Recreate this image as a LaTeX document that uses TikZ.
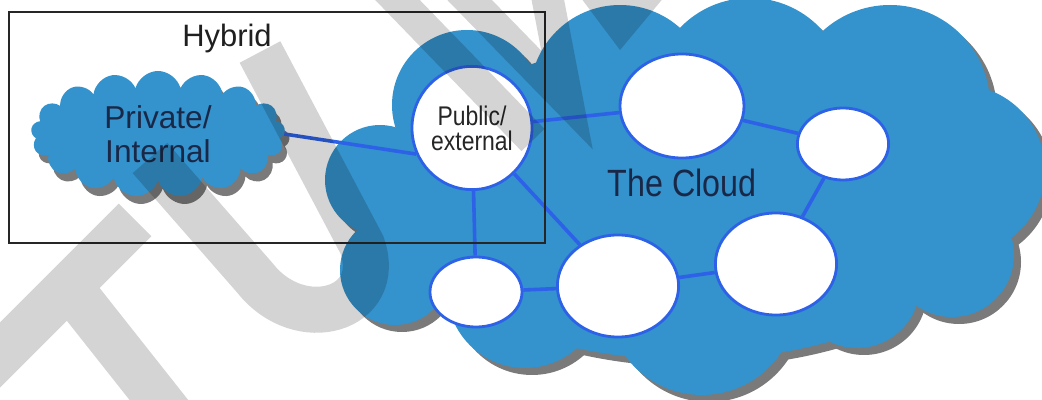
\documentclass[tikz,border=0pt]{standalone}
\usepackage{fontspec}
\setmainfont{Liberation Sans}
\newfontfamily\narrowfont[FakeStretch=0.85]{Liberation Sans}
\usetikzlibrary{shapes.geometric,shapes.symbols,shadows}
\definecolor{cloudblue}{RGB}{52,146,204}
\definecolor{linkblue}{RGB}{45,98,232}
\definecolor{shadowgray}{RGB}{122,122,122}
\definecolor{navytext}{RGB}{26,40,72}
\tikzset{
hub/.style={
	  ellipse, draw=linkblue, fill=white, line width=0.07cm, inner sep=0pt},
link/.style={draw=linkblue, line width=0.09cm},
privcloud/.style={
	  cloud, cloud puffs=17, cloud ignores aspect, fill=cloudblue, inner sep=0pt,
	  minimum width=6.35cm, minimum height=3.15cm, align=center, text=navytext,
	  font=\fontsize{22.5pt}{24.5pt}\selectfont,
	  drop shadow={shadow xshift=0.12cm, shadow yshift=-0.2cm,
	    fill=shadowgray, opacity=1}}
}

\begin{document}
\begin{tikzpicture}[x=0.025cm, y=-0.025cm]
	\useasboundingbox (0,0) rectangle (1042,400);
	% the big cloud, shadow first
	\foreach \s/\col in {7/shadowgray, 0/cloudblue}{
	\begin{scope}[shift={(\s,\s)}]
		\fill[\col] (690,200) ellipse [x radius=300, y radius=160];
		\foreach \cx/\cy/\r in {380/180/55, 467/105/75, 620/95/90, 750/95/97,
		  890/105/100, 960/170/85, 952/255/62, 857/285/63, 702/300/95,
		  525/290/78, 395/270/55}
		  \fill[\col] (\cx,\cy) circle [radius=\r];
	\end{scope}}
	\node[privcloud] (priv) at (158,134) {Private/\\Internal};
	\node[hub, minimum width=3cm, minimum height=3.08cm, align=center,
	  font=\narrowfont\fontsize{19.2pt}{17.8pt}\selectfont, text=black!85]
	  (pub) at (472,128) {Public/\\external};
	\node[hub, minimum width=3.1cm, minimum height=2.6cm] (top) at (682,106) {};
	\node[hub, minimum width=2.28cm, minimum height=1.8cm] (rgt) at (843,144) {};
	\node[hub, minimum width=2.3cm, minimum height=1.75cm] (bl) at (476,292) {};
	\node[hub, minimum width=3.03cm, minimum height=2.55cm] (bm) at (618,286) {};
	\node[hub, minimum width=3.03cm, minimum height=2.55cm] (br) at (776,264) {};
	\draw[link] (priv.east) -- (pub.205);
	\draw[link] (pub) -- (top);
	\draw[link] (pub) -- (bl);
	\draw[link] (pub) -- (bm);
	\draw[link] (top) -- (rgt);
	\draw[link] (rgt) -- (br);
	\draw[link] (bl) -- (bm);
	\draw[link] (bm) -- (br);
	\node[font=\narrowfont\fontsize{27pt}{29pt}\selectfont, text=navytext]
	  (cloudlbl) at (682,183) {The Cloud};
	% hybrid frame
	\draw[line width=0.05cm, black!85] (9,12) rectangle (545,243);
	\node[font=\fontsize{22pt}{24pt}\selectfont, text=black!88]
	  (hybridlbl) at (227,39) {Hybrid};
	% watermark
	\begin{scope}[transparency group, opacity=0.17]
	\draw[black, line width=1.15cm]
	  (-40,395) -- (135,220)
	  (60,275) -- (200,452)
	  (150,158) -- (255,278) .. controls (300,335) and (385,310) .. (362,245) -- (260,52);
	\draw[black, line width=0.8cm]
	  (383,-15) -- (533,140)
	  (455,-15) -- (567,100) -- (545,-15);
	\fill[black] (575,-10) -- (670,-10) -- (620,50) -- cycle;
	\end{scope}
\end{tikzpicture}
\end{document}
